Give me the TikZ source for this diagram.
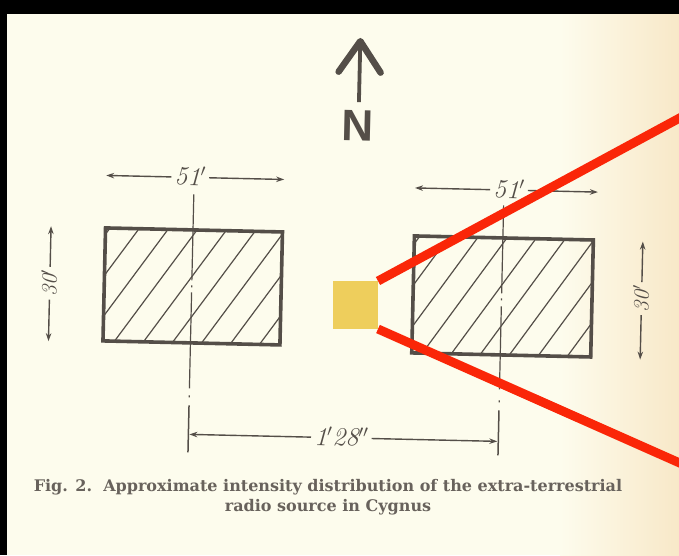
\documentclass[tikz,border=0pt]{standalone}
\usepackage{fontspec}
\newfontfamily\capfont{DejaVu Serif}
\newfontfamily\nfont{Liberation Sans}
\usetikzlibrary{arrows.meta}
\definecolor{paper}{RGB}{253,252,237}
\definecolor{paperwarm}{RGB}{248,232,200}
\definecolor{inkc}{RGB}{84,78,72}
\definecolor{capc}{RGB}{104,98,92}
\definecolor{gold}{RGB}{238,206,92}
\definecolor{redl}{RGB}{250,38,8}
\begin{document}
\begin{tikzpicture}[x=1pt,y=-1pt,
  rectframe/.style={draw=inkc,line width=3.6pt},
  hatchline/.style={draw=inkc,line width=1.2pt},
  centerline/.style={draw=inkc,line width=1.2pt},
  dimline/.style={draw=inkc,line width=1.4pt,-{Stealth[length=8pt,width=5.5pt]}},
  tickline/.style={draw=inkc,line width=1.5pt},
  dimtext/.style={text=inkc,font=\fontsize{26}{26}\selectfont\itshape,inner ysep=0pt,inner xsep=3pt,text height=16pt,text depth=0pt},
  vdimtext/.style={dimtext,font=\fontsize{22}{22}\selectfont\itshape,text height=14pt},
  boxnode/.style={inner sep=0pt,outer sep=0pt},
  redconn/.style={draw=redl,line width=9pt},
  captext/.style={text=capc,font=\capfont\bfseries\fontsize{16}{20}\selectfont,align=center,inner sep=0pt}
]
\useasboundingbox (0,0) rectangle (679,555);
\clip (0,0) rectangle (679,555);
% page
\fill[black] (0,0) rectangle (679,555);
\fill[paper] (7,14) rectangle (679,555);
\shade[left color=paper,right color=paperwarm] (560,14) rectangle (679,555);

\begin{scope}[rotate around={-1.3:(350,320)},transform shape]
  % north arrow
  \coordinate (ntip) at (354,41);
  \coordinate (nbase) at (354,102);
  \draw[draw=inkc,line width=3.8pt] (nbase) -- (ntip);
  \draw[draw=inkc,line width=6.5pt,line cap=round,line join=round] (333,72) -- (ntip) -- (375,72);
  \node[text=inkc,font=\nfont\bfseries\fontsize{44}{44}\selectfont,inner sep=0pt,text height=31.5pt,text depth=0pt] (N) at (353,125) {N};

  % left block
  \node[boxnode,minimum width=177pt,minimum height=113pt] (L) at (192,290) {};
  \begin{scope}
    \clip (103.5,233.5) rectangle (280.5,346.5);
    \foreach \o in {-3,...,7} \draw[hatchline] (115+29*\o,346.5) -- ++(80,-113);
  \end{scope}
  \draw[rectframe] (L.south west) rectangle (L.north east);

  % right block
  \node[boxnode,minimum width=179pt,minimum height=117pt] (R) at (502,293) {};
  \begin{scope}
    \clip (412.5,234.5) rectangle (591.5,351.5);
    \foreach \o in {-3,...,7} \draw[hatchline] (423+29*\o,351.5) -- ++(82,-117);
  \end{scope}
  \draw[rectframe] (R.south west) rectangle (R.north east);

  % centre lines
  \draw[centerline] (191,198) -- (191,284);
  \draw[centerline] (191,289) -- (191,291);
  \draw[centerline] (191,296) -- (191,392);
  \draw[centerline] (191,399) -- (191,401);
  \draw[tickline] (191,409) -- (191,456);
  \draw[centerline] (501,202) -- (501,290);
  \draw[centerline] (501,295) -- (501,297);
  \draw[centerline] (501,303) -- (501,386);
  \draw[centerline] (501,397) -- (501,399);
  \draw[tickline] (501,407) -- (501,452);

  % 51' dimensions
  \coordinate (l51a) at (103,181);
  \coordinate (l51b) at (281,181);
  \node[dimtext] (t51l) at (187,181) {51$'$};
  \draw[dimline] (t51l) -- (l51a);
  \draw[dimline] (t51l) -- (l51b);
  \coordinate (r51a) at (412,186.5);
  \coordinate (r51b) at (595,186.5);
  \node[dimtext] (t51r) at (506,186.5) {51$'$};
  \draw[dimline] (t51r) -- (r51a);
  \draw[dimline] (t51r) -- (r51b);

  % 30' dimensions
  \coordinate (l30a) at (49,233);
  \coordinate (l30b) at (49,348);
  \node[vdimtext,rotate=90] (t30l) at (49,290) {30$'$};
  \draw[dimline] (t30l) -- (l30a);
  \draw[dimline] (t30l) -- (l30b);
  \coordinate (r30a) at (641,235);
  \coordinate (r30b) at (641,353);
  \node[vdimtext,rotate=90] (t30r) at (641,292) {30$'$};
  \draw[dimline] (t30r) -- (r30a);
  \draw[dimline] (t30r) -- (r30b);

  % 1'28'' dimension
  \coordinate (b1) at (192,438);
  \coordinate (b2) at (500,438);
  \node[dimtext] (t128) at (344,438) {1$'$28$''$};
  \draw[dimline] (t128) -- (b1);
  \draw[dimline] (t128) -- (b2);
\end{scope}

% caption
\node[captext] (cap) at (328,497) {Fig. 2.\ \ Approximate intensity distribution of the extra-terrestrial\\radio source in Cygnus};

% highlight overlay
\node[fill=gold,minimum width=45pt,minimum height=48pt,inner sep=0pt,outer sep=0pt] (sq) at (355.5,305) {};
\coordinate (rtop) at (700,107);
\coordinate (rbot) at (700,472);
\draw[redconn] (sq.north east) -- (rtop);
\draw[redconn] (sq.south east) -- (rbot);
\end{tikzpicture}
\end{document}
